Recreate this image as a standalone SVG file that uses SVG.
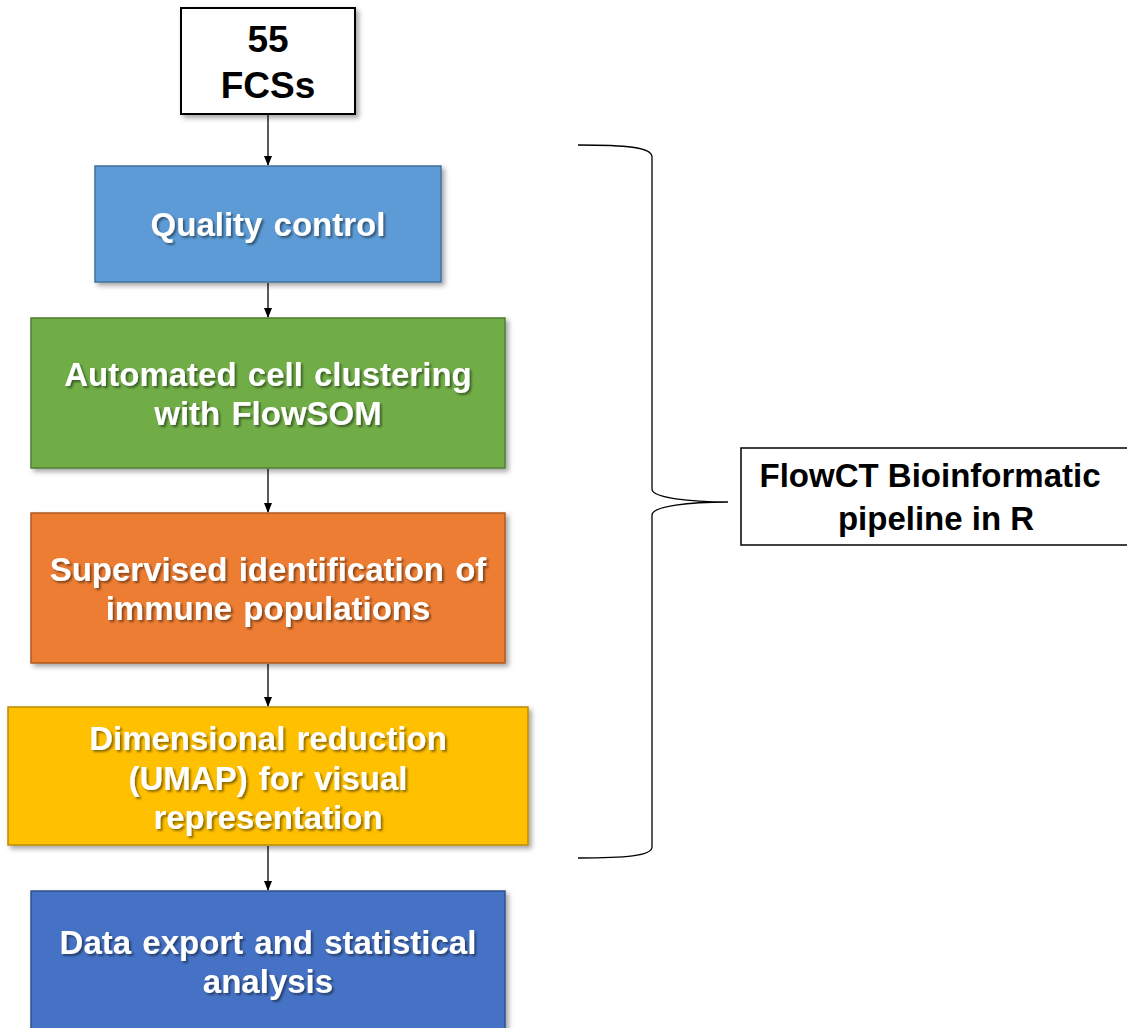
<svg xmlns="http://www.w3.org/2000/svg" width="1127" height="1028" viewBox="0 0 1127 1028">
<style>
  .lbl{font-family:"Liberation Sans",Arial,sans-serif;font-weight:bold;font-size:33px;text-anchor:middle}
  .w{fill:#fff;filter:url(#ts);word-spacing:2px}
  .k{fill:#000}
  .box{filter:url(#bs)}
  .conn{stroke:#000;stroke-width:1.3;fill:none}
</style>
<defs>
  <filter id="ts" x="-10%" y="-20%" width="120%" height="150%">
    <feDropShadow dx="2" dy="2" stdDeviation="1" flood-color="#000" flood-opacity="0.45"/>
  </filter>
  <filter id="bs" x="-5%" y="-5%" width="115%" height="115%">
    <feDropShadow dx="3" dy="3" stdDeviation="2.5" flood-color="#000" flood-opacity="0.35"/>
  </filter>
  <marker id="ah" markerWidth="10" markerHeight="10" refX="9" refY="5" orient="auto" markerUnits="userSpaceOnUse">
    <path d="M0,1 L10,5 L0,9 Z" fill="#000"/>
  </marker>
</defs>
<rect width="1127" height="1028" fill="#fff"/>

<g id="connectors">
  <line class="conn" x1="268" y1="114" x2="268" y2="165" marker-end="url(#ah)"/>
  <line class="conn" x1="268" y1="283" x2="268" y2="317" marker-end="url(#ah)"/>
  <line class="conn" x1="268" y1="469" x2="268" y2="512" marker-end="url(#ah)"/>
  <line class="conn" x1="268" y1="664" x2="268" y2="706" marker-end="url(#ah)"/>
  <line class="conn" x1="268" y1="846" x2="268" y2="890" marker-end="url(#ah)"/>
  <path class="conn" d="M578,145 C625,145 652,147 652,157 L652,489 C652,498 690,502 728,502 C690,502 652,506 652,515 L652,847 C652,856 625,858 578,858"/>
</g>

<g id="node-fcs">
  <rect class="box" x="181" y="8" width="174" height="106" fill="#fff" stroke="#000" stroke-width="2"/>
  <text class="lbl k" x="268" y="52" style="font-size:37px">55</text>
  <text class="lbl k" x="268" y="98" style="font-size:37px">FCSs</text>
</g>

<g id="node-qc">
  <rect class="box" x="95" y="166" width="346" height="116" fill="#5B9BD5" stroke="#41719C" stroke-width="1.5"/>
  <text class="lbl w" x="268" y="236">Quality control</text>
</g>

<g id="node-cluster">
  <rect class="box" x="31" y="318" width="474" height="150" fill="#70AD47" stroke="#507E32" stroke-width="1.5"/>
  <text class="lbl w" x="268" y="386">Automated cell clustering</text>
  <text class="lbl w" x="268" y="425">with FlowSOM</text>
</g>

<g id="node-supervised">
  <rect class="box" x="31" y="513" width="474" height="150" fill="#ED7D31" stroke="#AE5A21" stroke-width="1.5"/>
  <text class="lbl w" x="268" y="581">Supervised identification of</text>
  <text class="lbl w" x="268" y="620">immune populations</text>
</g>

<g id="node-umap">
  <rect class="box" x="8" y="707" width="520" height="138" fill="#FFC000" stroke="#BC8C00" stroke-width="1.5"/>
  <text class="lbl w" x="268" y="750">Dimensional reduction</text>
  <text class="lbl w" x="268" y="790">(UMAP) for visual</text>
  <text class="lbl w" x="268" y="829">representation</text>
</g>

<g id="node-export">
  <rect class="box" x="31" y="891" width="474" height="150" fill="#4472C4" stroke="#2F528F" stroke-width="1.5"/>
  <text class="lbl w" x="268" y="954">Data export and statistical</text>
  <text class="lbl w" x="268" y="993">analysis</text>
</g>

<g id="node-pipeline">
  <rect x="741" y="448" width="400" height="97" fill="#fff" stroke="#000" stroke-width="1.5"/>
  <text class="lbl k" x="930" y="487">FlowCT Bioinformatic</text>
  <text class="lbl k" x="936" y="530">pipeline in R</text>
</g>
</svg>
